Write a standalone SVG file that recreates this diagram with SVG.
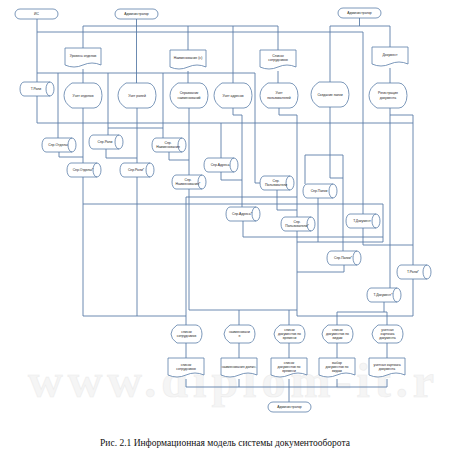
<svg xmlns="http://www.w3.org/2000/svg" width="450" height="460" viewBox="0 0 450 460">
<style>
.sh{fill:#fff;stroke:#5b7ea8;stroke-width:0.8}
.ln{fill:none;stroke:#5b7ea8;stroke-width:0.9}
.t{font-family:"Liberation Sans",Arial,sans-serif;font-size:3.4px;fill:#222;text-anchor:middle}
.wm{font-family:"Liberation Serif","Times New Roman",serif;font-weight:bold;font-size:48px;fill:#f5f5f5;stroke:#ececec;stroke-width:0.6;letter-spacing:5px}
.cap{font-family:"Liberation Serif","Times New Roman",serif;font-size:9.5px;fill:#111;text-anchor:middle}
</style>
<defs>
<rect id="term" width="43" height="10" rx="5"/>
<path id="doc" d="M0,0 H36 V17 Q27,13 18,17 T0,17 Z"/>
<path id="disp" d="M8,0 H30 A8,12.5 0 0 1 30,25 H8 Q0,20 0,12.5 Q0,5 8,0 Z"/>
<path id="disp2" d="M6,0 H25 A6,9 0 0 1 25,18 H6 Q0,14 0,9 Q0,4 6,0 Z"/>
<path id="cyl" d="M4,0 H30 A4,7 0 0 1 30,14 H4 A4,7 0 0 1 4,0 Z M30,0 A4,7 0 0 0 30,14"/>
</defs>
<rect width="450" height="460" fill="#fff"/>
<text class="wm" x="28" y="397">www.diplom-it.r</text>

<g id="connectors" class="ln">
<path d="M37,19 V82"/>
<path d="M37,96 V123 H413"/>
<path d="M37,32 H363 V214"/>
<path d="M136.5,19 V83"/>
<path d="M83,26 H278 M83,26 V48 M188,26 V50 M233,26 V83 M278,26 V50"/>
<path d="M83,69 V83 M188,71 V83 M278,71 V83"/>
<path d="M359.5,18 V26 M330,26 H390 M330,26 V82 M390,26 V47 M390,68 V83"/>
<path d="M37,73 H255 M58,73 V138 M108,73 V135 M163,73 V138 M255,73 V183 H260"/>
<path d="M108,128 H163"/>
<path d="M83,108 V163 M59,152 V157 H83 M83,177 V316 H186"/>
<path d="M137,108 V163 M106,149 V158 H137 M137,177 V316"/>
<path d="M189,108 V175 M169,152 V160 H189 M189,189 V310 H297"/>
<path d="M233,108 V115 H242 V207 M221,123 V158 M221,172 V180 H242 M243,221 V237 H383"/>
<path d="M279,108 V115 H297 V217 M277,190 V210 H297 M297,231 V316 H413"/>
<path d="M186,197 H297 M186,197 V325"/>
<path d="M83,204 H383 V242 M297,242 H383 M318,197 V242"/>
<path d="M330,107 V178 H343 M305,184 V155 H343 V251 M344,265 V272 H297"/>
<path d="M363,228 V245 H413"/>
<path d="M390,108 V288 M390,115 H413 V265 M413,279 V316"/>
<path d="M384,302 V312 M337,312 H387 M337,312 V325 M387,312 V325"/>
<path d="M239,310 V325 M289,310 V325"/>
<path d="M186,343 V358 M239,343 V358 M289,343 V358 M337,343 V358 M387,343 V358"/>
<path d="M186,379 V387 H387 M239,379 V387 M337,379 V387 M387,379 V387 M289,379 V402"/>
</g>

<g id="t_is"><use href="#term" class="sh" x="15" y="9"/><text class="t" x="36.5" y="15.2">ИС</text></g>
<g id="t_adm1"><use href="#term" class="sh" x="115" y="9"/><text class="t" x="136.5" y="15.2">Администратор</text></g>
<g id="t_adm2"><use href="#term" class="sh" x="338" y="8"/><text class="t" x="359.5" y="14.2">Администратор</text></g>
<g id="t_adm3"><use href="#term" class="sh" x="268" y="402"/><text class="t" x="289.5" y="408.2">Администратор</text></g>

<g id="d_otd"><use href="#doc" class="sh" x="65" y="48"/><text class="t" x="83" y="57">Уровень отделов</text></g>
<g id="d_naim"><use href="#doc" class="sh" x="170" y="50"/><text class="t" x="188" y="59">Наименования (н)</text></g>
<g id="d_sotr"><use href="#doc" class="sh" x="260" y="50"/><text class="t" x="278" y="57">Список</text><text class="t" x="278" y="61.2">сотрудников</text></g>
<g id="d_doc"><use href="#doc" class="sh" x="372" y="47"/><text class="t" x="390" y="56">Документ</text></g>

<g id="p_otd"><use href="#disp" class="sh" x="64" y="83"/><text class="t" x="83" y="96.5">Учет отделов</text></g>
<g id="p_rol"><use href="#disp" class="sh" x="118" y="83"/><text class="t" x="137" y="96.5">Учет ролей</text></g>
<g id="p_naim"><use href="#disp" class="sh" x="170" y="83"/><text class="t" x="189" y="94.4">Справочник</text><text class="t" x="189" y="98.6">наименований</text></g>
<g id="p_adr"><use href="#disp" class="sh" x="214" y="83"/><text class="t" x="233" y="96.5">Учет адресов</text></g>
<g id="p_pol"><use href="#disp" class="sh" x="260" y="83"/><text class="t" x="279" y="94.4">Учет</text><text class="t" x="279" y="98.6">пользователей</text></g>
<g id="p_pap"><use href="#disp" class="sh" x="311" y="82"/><text class="t" x="330" y="95.5">Создание папки</text></g>
<g id="p_reg"><use href="#disp" class="sh" x="369" y="83"/><text class="t" x="388" y="94.4">Регистрация</text><text class="t" x="388" y="98.6">документа</text></g>

<g id="s_troli"><use href="#cyl" class="sh" x="20" y="82"/><text class="t" x="36" y="90.2">Т.Роли</text></g>
<g id="s_otd"><use href="#cyl" class="sh" x="42" y="138"/><text class="t" x="58" y="146.2">Спр.Отделы</text></g>
<g id="s_rol"><use href="#cyl" class="sh" x="89" y="135"/><text class="t" x="105" y="143.2">Спр.Роли</text></g>
<g id="s_otd2"><use href="#cyl" class="sh" x="67" y="163"/><text class="t" x="83" y="171.2">Спр.Отделы*</text></g>
<g id="s_rol2"><use href="#cyl" class="sh" x="120" y="163"/><text class="t" x="136" y="171.2">Спр.Роли*</text></g>
<g id="s_naim"><use href="#cyl" class="sh" x="152" y="138"/><text class="t" x="168" y="144.1">Спр.</text><text class="t" x="168" y="148.3">Наименования</text></g>
<g id="s_adr"><use href="#cyl" class="sh" x="204" y="158"/><text class="t" x="220" y="166.2">Спр.Адреса</text></g>
<g id="s_naim2"><use href="#cyl" class="sh" x="172" y="175"/><text class="t" x="188" y="181.1">Спр.</text><text class="t" x="188" y="185.3">Наименования*</text></g>
<g id="s_pol"><use href="#cyl" class="sh" x="260" y="176"/><text class="t" x="276" y="182.1">Спр.</text><text class="t" x="276" y="186.3">Пользователи</text></g>
<g id="s_pap"><use href="#cyl" class="sh" x="303" y="184"/><text class="t" x="319" y="192.2">Спр.Папки</text></g>
<g id="s_adr2"><use href="#cyl" class="sh" x="226" y="207"/><text class="t" x="242" y="215.2">Спр.Адреса*</text></g>
<g id="s_pol2"><use href="#cyl" class="sh" x="281" y="217"/><text class="t" x="297" y="223.1">Спр.</text><text class="t" x="297" y="227.3">Пользователи*</text></g>
<g id="s_tdoc"><use href="#cyl" class="sh" x="346" y="214"/><text class="t" x="362" y="222.2">Т.Документ</text></g>
<g id="s_pap2"><use href="#cyl" class="sh" x="327" y="251"/><text class="t" x="343" y="259.2">Спр.Папки*</text></g>
<g id="s_troli2"><use href="#cyl" class="sh" x="397" y="265"/><text class="t" x="413" y="273.2">Т.Роли*</text></g>
<g id="s_tdoc2"><use href="#cyl" class="sh" x="367" y="288"/><text class="t" x="383" y="296.2">Т.Документ*</text></g>

<g id="b_sotr"><use href="#disp2" class="sh" x="171" y="325"/><text class="t" x="186.5" y="332.9">список</text><text class="t" x="186.5" y="337.1">сотрудников</text></g>
<g id="b_naim"><use href="#disp2" class="sh" x="224" y="325"/><text class="t" x="239.5" y="332.9">наименовани</text><text class="t" x="239.5" y="337.1">я</text></g>
<g id="b_vrem"><use href="#disp2" class="sh" x="274" y="325"/><text class="t" x="289.5" y="330.7">список</text><text class="t" x="289.5" y="334.9">документов по</text><text class="t" x="289.5" y="339.1">времени</text></g>
<g id="b_vid"><use href="#disp2" class="sh" x="322" y="325"/><text class="t" x="337.5" y="330.7">список</text><text class="t" x="337.5" y="334.9">документов по</text><text class="t" x="337.5" y="339.1">видам</text></g>
<g id="b_kart"><use href="#disp2" class="sh" x="372" y="325"/><text class="t" x="387.5" y="330.7">учетная</text><text class="t" x="387.5" y="334.9">карточка</text><text class="t" x="387.5" y="339.1">документа</text></g>

<g id="e_sotr"><use href="#doc" class="sh" x="168" y="358"/><text class="t" x="186" y="365.8">список</text><text class="t" x="186" y="370">сотрудников</text></g>
<g id="e_naim"><use href="#doc" class="sh" x="221" y="358"/><text class="t" x="239" y="368">наименования должн.</text></g>
<g id="e_vrem"><use href="#doc" class="sh" x="271" y="358"/><text class="t" x="289" y="363.6">список</text><text class="t" x="289" y="367.8">документов по</text><text class="t" x="289" y="372">времени</text></g>
<g id="e_vid"><use href="#doc" class="sh" x="319" y="358"/><text class="t" x="337" y="363.6">выбор</text><text class="t" x="337" y="367.8">документов по</text><text class="t" x="337" y="372">видам</text></g>
<g id="e_kart"><use href="#doc" class="sh" x="369" y="358"/><text class="t" x="387" y="365.8">учетная карточка</text><text class="t" x="387" y="370">документа</text></g>

<text class="cap" x="225" y="446">Рис. 2.1 Информационная модель системы документооборота</text>
</svg>
